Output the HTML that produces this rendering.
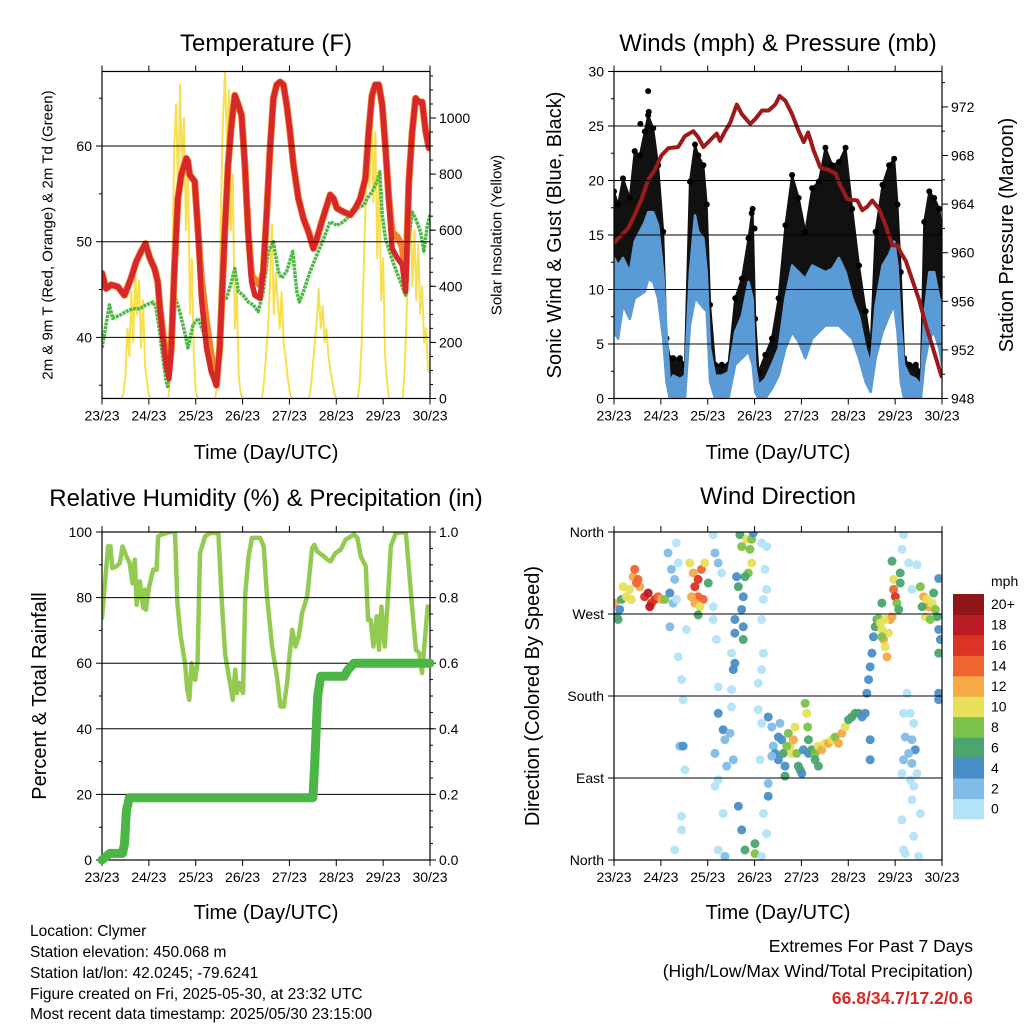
<!DOCTYPE html>
<html>
<head>
<meta charset="utf-8">
<style>
html,body{margin:0;padding:0;background:#fff;}
svg{display:block;font-family:"Liberation Sans",Arial,sans-serif;}
</style>
</head>
<body>
<svg id="chart" width="1024" height="1024" viewBox="0 0 1024 1024" xmlns="http://www.w3.org/2000/svg">
<defs>
<clipPath id="c1"><rect x="102" y="71.5" width="328" height="327"/></clipPath>
<clipPath id="c2"><rect x="614" y="71.5" width="328" height="327"/></clipPath>
<clipPath id="c3"><rect x="102" y="532" width="328" height="328"/></clipPath>
<clipPath id="c4"><rect x="614" y="532" width="328" height="328"/></clipPath>
</defs>
<rect x="0" y="0" width="1024" height="1024" fill="#fff"/>

<text x="266" y="51" font-size="24" text-anchor="middle">Temperature (F)</text>
<text x="778" y="51" font-size="24" text-anchor="middle">Winds (mph) &amp; Pressure (mb)</text>
<text x="266" y="506" font-size="24" text-anchor="middle">Relative Humidity (%) &amp; Precipitation (in)</text>
<text x="778" y="504" font-size="24" text-anchor="middle">Wind Direction</text>

<text x="266" y="459" font-size="20" text-anchor="middle">Time (Day/UTC)</text>
<text x="778" y="459" font-size="20" text-anchor="middle">Time (Day/UTC)</text>
<text x="266" y="919" font-size="20" text-anchor="middle">Time (Day/UTC)</text>
<text x="778" y="919" font-size="20" text-anchor="middle">Time (Day/UTC)</text>

<text x="48" y="235" font-size="15" text-anchor="middle" dominant-baseline="central" transform="rotate(-90 48 235)">2m &amp; 9m T (Red, Orange) &amp; 2m Td (Green)</text>
<text x="497" y="235" font-size="15" text-anchor="middle" dominant-baseline="central" transform="rotate(-90 497 235)">Solar Insolation (Yellow)</text>
<text x="555" y="235" font-size="20" text-anchor="middle" dominant-baseline="central" transform="rotate(-90 555 235)">Sonic Wind &amp; Gust (Blue, Black)</text>
<text x="1007" y="235" font-size="20" text-anchor="middle" dominant-baseline="central" transform="rotate(-90 1007 235)">Station Pressure (Maroon)</text>
<text x="40" y="696" font-size="20" text-anchor="middle" dominant-baseline="central" transform="rotate(-90 40 696)">Percent &amp; Total Rainfall</text>
<text x="533" y="696" font-size="20" text-anchor="middle" dominant-baseline="central" transform="rotate(-90 533 696)">Direction (Colored By Speed)</text>

<g font-size="15.5">
<text x="30" y="936">Location: Clymer</text>
<text x="30" y="957">Station elevation: 450.068 m</text>
<text x="30" y="978">Station lat/lon: 42.0245; -79.6241</text>
<text x="30" y="999">Figure created on Fri, 2025-05-30, at 23:32 UTC</text>
<text x="30" y="1019">Most recent data timestamp: 2025/05/30 23:15:00</text>
</g>
<g font-size="17.5" text-anchor="end">
<text x="973" y="952">Extremes For Past 7 Days</text>
<text x="973" y="977">(High/Low/Max Wind/Total Precipitation)</text>
<text x="973" y="1004" fill="#d42a2a" font-weight="bold">66.8/34.7/17.2/0.6</text>
</g>
</svg>
<script>
// ---------- DATA ----------
const dayLabels = ['23/23','24/23','25/23','26/23','27/23','28/23','29/23','30/23'];

const tempHours = [0,2.1,4.6,8.1,11.5,14.9,17.5,20.1,22.3,24.3,26.9,28.6,29.5,31.2,32.9,34.3,35.5,37.2,38.9,40.6,43.2,44.0,44.9,47.5,49.2,50.9,53.5,56.0,58.6,60.3,62.9,64.6,66.3,68.0,69.8,71.5,73.2,74.9,76.6,78.3,80.9,82.6,84.3,86.1,87.8,89.5,91.2,92.9,94.6,96.3,98.1,100.6,103.2,105.8,108.3,110.0,112.6,115.2,116.9,118.6,120.3,123.8,127.2,129.8,132.3,134.9,136.6,138.3,140.0,141.8,143.5,145.2,146.9,148.6,151.2,153.8,155.5,157.2,158.9,160.6,162.3,164.0,165.8,167.5];
const tempRed = [46.7,45.1,45.5,45.3,44.4,46.2,47.9,49.0,49.8,48.4,47.2,45.8,43.4,39.9,37.1,35.7,38.9,47.6,54.5,57.0,58.7,58.4,57.0,56.3,51.0,44.1,38.9,36.4,35.0,38.9,51.0,58.0,62.2,65.3,64.3,63.2,58.0,51.0,45.8,44.4,44.1,46.9,52.8,59.8,65.0,66.4,66.7,66.4,64.3,61.5,58.0,54.5,52.4,51.0,49.3,50.3,52.1,53.8,54.9,54.5,53.5,53.1,52.8,53.5,54.5,56.6,61.5,65.3,66.4,66.4,64.3,59.8,54.5,49.3,48.3,47.6,44.8,56.3,61.5,65.0,64.6,64.6,61.5,59.8];
const tempOrange = [46.7,45.1,45.5,45.3,44.4,46.2,47.9,49.0,49.8,48.4,47.2,45.8,43.4,40.5,38.0,36.5,38.9,47.6,54.5,57.0,58.7,58.4,57.0,56.3,51.0,46.0,41.5,38.0,35.0,38.9,51.0,58.0,62.2,65.3,64.3,63.2,58.0,51.0,46.5,46.0,45.5,46.9,52.8,59.8,65.0,66.4,66.7,66.4,64.3,61.5,58.0,54.5,52.4,51.0,49.3,50.3,52.1,53.8,54.9,54.5,53.5,53.1,52.8,53.5,54.5,56.6,61.5,65.3,66.4,66.4,64.3,59.8,54.5,51.0,50.5,49.5,46.0,56.3,61.5,65.0,64.6,64.6,61.5,59.8];
const dewHours = [0,3.8,5.5,8.9,12.3,15.8,19.2,22.6,26.1,27.8,29.5,31.2,32.9,33.8,35.5,37.2,39.8,42.3,44.0,46.6,49.2,51.8,55.2,57.8,59.5,61.2,63.8,66.3,68.0,69.8,72.3,74.9,77.5,80.0,82.6,85.2,87.8,90.3,92.0,94.6,97.7,99.8,101.1,103.2,106.6,110.0,113.5,116.9,120.3,123.8,127.2,130.6,134.1,135.8,138.3,140.9,142.3,143.5,145.2,147.8,150.3,152.9,155.5,157.2,158.9,160.6,163.2,164.9,166.6,168];
const dewPoint = [38.9,43.4,42.0,42.3,42.7,43.0,43.0,43.4,43.7,43.0,40.6,37.8,35.4,34.7,38.9,44.4,42.7,40.6,38.9,41.3,42.0,40.6,37.8,35.0,35.0,44.1,44.1,45.8,47.2,44.8,44.4,43.7,43.4,42.7,44.8,49.0,50.0,46.9,46.2,46.9,49.0,44.8,43.7,44.8,46.9,48.6,50.3,52.1,51.7,52.1,52.8,53.5,53.8,54.5,55.2,56.3,57.3,52.8,50.3,48.6,47.2,45.8,44.4,50.3,53.1,52.4,51.0,49.0,51.7,52.8];
const solar = [0,0,0,0,0,0,0,0,0,0,
 0,20,80,250,150,380,200,450,300,420,180,350,120,60,10,0,
 0,0,0,0,0,0,0,0,
 0,100,450,900,1050,700,1120,800,1000,600,850,300,500,150,30,0,
 0,0,0,0,0,0,0,0,
 0,50,300,700,1000,1165,900,1100,600,800,250,400,80,20,0,
 0,0,0,0,0,0,0,0,0,
 0,60,150,250,400,620,300,450,350,250,380,200,150,80,30,0,
 0,0,0,0,0,0,0,0,
 0,40,120,200,280,390,250,330,200,250,150,100,60,20,0,
 0,0,0,0,0,0,0,0,0,0,
 0,60,200,450,700,1000,750,1090,700,950,500,800,350,500,150,60,0,
 0,0,0,0,0,0,
 0,100,300,500,710,400,600,350,550,300,400,200,250,100,95];

const windHours = [0,2.1,4.6,8.1,10.6,13.2,15.8,17.5,20.1,22.6,25.2,26.9,28.6,30.3,33.8,36.3,38.9,41.5,43.2,45.8,47.5,49.2,51.8,55.2,58.6,62.1,65.5,68.9,71.0,72.3,74.0,77.5,80.9,84.3,87.8,91.2,94.6,98.0,101.5,104.9,108.3,111.8,115.2,118.6,122.0,125.5,128.9,131.5,134.0,137.5,140.9,143.5,145.2,146.9,148.6,151.2,154.6,157.2,158.9,161.5,164.0,166.6,168];
const windHigh = [12.9,12.2,12.9,11.6,14.4,15.3,16.2,17.1,17.1,15.9,11.6,6.1,1.5,2.1,1.8,2.1,11.6,16.8,15.3,14.7,11.6,4.6,2.1,2.1,2.4,6.1,7.6,10.7,9.2,3.1,1.2,1.8,3.1,4.6,9.2,12.2,11.6,11.0,12.2,11.9,11.6,11.9,12.9,11.6,9.2,7.6,4.6,3.1,8.6,12.2,13.2,14.4,12.2,6.7,3.1,2.1,1.8,1.2,7.6,11.6,11.6,9.2,8.6];
const windLow = [6.1,5.5,8.6,7.3,9.2,9.5,9.8,11.0,10.7,9.2,5.5,1.5,0,0,0,0,6.7,9.2,8.9,8.3,8.0,1.5,0,0,0,3.1,3.7,4.3,3.1,0.6,0,0,0.9,2.1,4.6,6.1,5.2,3.7,5.5,6.1,6.7,6.7,6.7,6.1,5.5,3.7,1.5,0.6,3.7,6.1,7.6,8.6,6.1,1.5,0,0,0,0,3.1,5.5,6.1,4.6,3.1];
const gustHigh = [19.0,17.8,20.2,18.4,22.7,22.3,24.5,26.0,24.8,21.4,15.3,5.5,3.7,3.7,3.7,3.1,19.9,23.3,22.3,21.4,17.8,8.6,3.1,3.1,3.1,9.2,11.0,14.7,17.4,7.3,2.4,4.0,5.5,9.2,15.9,20.5,18.4,15.3,19.3,19.9,23.0,21.4,21.7,23.0,17.4,12.2,8.0,4.9,15.3,19.6,21.4,22.0,17.8,11.6,3.7,3.1,3.1,2.4,16.2,19.0,18.4,17.4,15.3];
const gustOutHours = [17.5,17.8,13.5,70.5,72.0];
const gustOutlier = [28.2,26.3,25.2,17.0,15.6];
const presHours = [0,2.9,7.2,10.6,14.1,17.5,20.9,24.3,27.8,32.9,36.3,40.6,43.2,45.8,50.1,52.6,54.3,56.9,59.5,62.9,65.5,69.8,72.3,75.8,79.2,82.6,84.8,87.8,91.2,94.6,97.2,99.4,102.3,105.7,110.0,113.5,116.0,119.5,124.6,127.2,129.8,132.3,135.8,139.2,142.6,145.2,146.9,149.5,152.9,156.3,159.8,164.0,168];
const pressure = [960.8,961.3,962.0,963.1,964.4,966.0,966.8,968.0,968.6,968.7,969.6,970.0,969.5,968.7,969.4,969.8,969.2,970.0,970.7,972.2,971.4,970.6,971.0,971.7,971.7,972.2,972.9,972.5,971.4,970.0,969.1,969.9,968.4,967.0,966.8,966.5,965.5,964.4,964.3,963.5,963.8,964.3,963.6,962.2,960.6,960.6,960.0,959.3,957.7,956.1,954.0,951.8,949.7];

const rhHours = [0,1.4,3.1,4.3,5.3,7.4,9.1,10.5,12.5,14.2,15.6,16.8,17.7,19.4,21.1,21.9,22.5,24.2,26.2,27.9,28.8,30.5,34.8,37.4,38.6,40.3,42.5,43.7,44.7,45.9,47.7,48.9,50.2,52.8,55.4,59.6,61.4,63.1,65.3,67.0,68.2,69.1,70.4,72.2,73.4,75.1,76.8,81.1,82.8,84.5,87.1,89.6,91.4,93.1,94.8,96.2,97.4,99.1,100.8,102.5,105.1,107.6,108.8,110.2,113.6,115.4,117.1,119.6,122.2,124.8,129.1,130.8,132.5,135.1,136.3,137.6,139.0,140.7,141.9,143.1,144.8,146.2,147.9,150.5,155.6,157.4,159.1,160.8,162.5,163.9,165.1,166.8,168];
const rh = [73.8,83.4,95.6,95.6,89.0,89.5,90.5,95.6,92.6,90.5,84.4,91.6,77.8,84.9,76.8,82.4,76.3,83.4,88.5,88.5,98.7,99.2,100,100,78.3,68.2,60.0,51.9,48.8,60.0,54.9,60.0,93.6,98.7,99.7,99.7,78.3,62.6,54.9,48.8,58.0,50.9,54.0,50.9,81.4,92.6,98.2,98.2,95.6,80.4,65.1,56.0,46.8,46.8,54.0,63.1,70.2,65.1,68.2,75.3,80.4,95.1,96.1,94.1,92.6,91.6,91.0,93.6,94.6,97.7,99.2,98.2,92.6,89.5,73.2,73.2,65.1,74.3,64.1,77.3,65.1,77.3,95.6,99.7,100,87.5,75.3,64.1,63.1,57.0,65.1,77.3,75.3];
const precipHours = [0,4,10.5,11.5,12.5,14,16,108,109,110.5,112,124,126,129,168];
const precip = [0,0.02,0.02,0.05,0.15,0.19,0.19,0.19,0.3,0.5,0.56,0.56,0.58,0.6,0.6];

const dirHours = [
 0.3,1.2,2.1,2.9,3.8,
 4.6,6.3,8.0,9.8,10.6,12.3,13.2,8.9,11.5,
 15.7,17.5,19.2,20.9,18.3,22.6,24.3,26.0,
 27.7,29.4,31.1,28.6,32.9,32.0,30.3,28.6,32.9,34.6,35.4,33.7,35.4,36.3,34.6,34.6,31.1,37.1,32.0,
 38.8,40.6,41.4,43.1,44.8,46.5,43.1,39.7,45.7,48.3,41.4,44.0,43.1,
 50.8,51.7,53.4,55.1,50.8,52.5,53.4,53.4,55.9,56.8,51.7,57.7,53.4,51.7,55.9,53.4,56.8,60.2,59.4,61.1,60.2,60.2,50.8,
 64.5,65.4,67.9,69.6,70.5,68.8,67.1,62.8,63.7,66.2,65.4,61.9,61.9,66.2,66.2,61.9,61.1,63.7,65.4,67.1,72.2,72.2,70.5,71.3,
 75.6,78.2,77.3,78.2,76.5,75.6,76.5,75.6,73.9,73.9,75.6,74.8,79.0,79.0,76.5,78.2,75.6,
 79.0,80.8,81.6,82.5,84.2,85.0,85.9,86.7,87.6,87.6,89.3,90.2,91.0,91.9,92.7,93.6,94.4,95.3,96.2,97.0,97.9,98.7,99.2,99.6,99.6,80.8,84.2,88.5,
 101.3,103.0,104.7,106.4,108.1,109.9,111.6,113.3,115.0,116.7,118.4,120.1,121.8,123.5,125.3,127.0,128.7,103.0,104.7,131.2,131.2,
 129.5,130.4,131.2,132.1,132.9,133.8,134.7,135.5,136.4,137.2,138.1,138.9,139.8,140.6,141.5,138.9,137.2,
 142.4,143.2,143.2,144.1,144.9,146.6,146.6,145.8,137.2,142.4,
 148.3,147.5,150.9,155.2,152.6,150.1,148.3,151.8,153.5,149.2,152.6,154.3,150.9,148.3,152.6,155.2,151.8,153.5,152.6,156.9,147.5,153.5,148.3,156.0,149.2,147.5,
 156.9,158.6,160.3,161.2,162.9,164.6,165.5,166.3,167.2,166.3,166.3,166.3,157.8,159.5,162.0,163.7,166.3];
const dirDeg = [
 282,267,264,275,286,
 300,289,297,311,319,308,300,286,304,
 289,293,282,286,278,289,286,286,
 337,319,308,293,326,348,282,256,223,198,176,125,125,99,48,33,11,253,286,
 326,315,300,308,319,326,289,289,286,304,282,278,269,
 357,337,326,315,264,242,190,161,143,132,117,103,88,81,51,11,4,168,139,110,187,227,278,
 357,344,352,341,326,315,311,311,300,289,275,264,249,256,242,216,209,59,33,11,18,7,352,359,
 348,344,319,297,286,264,227,209,194,165,150,110,84,70,51,29,4,
 157,146,125,117,110,150,132,117,103,92,139,125,117,132,146,117,103,99,95,121,172,161,146,132,117,114,135,125,
 121,117,125,121,128,128,132,135,128,139,146,154,157,161,161,157,161,110,103,132,110,
 183,198,212,227,245,256,264,265,260,253,242,234,223,249,264,264,245,
 328,308,297,289,282,315,304,275,282,267,
 357,341,326,324,297,183,161,161,150,135,132,121,117,110,106,95,88,81,66,51,44,26,11,4,7,95,
 300,289,286,278,282,275,267,253,242,227,183,176,278,267,264,293,309];
const dirSpeed = [
 12,6,6,4,6,
 10,10,10,12,14,14,12,10,14,
 16,18,16,16,18,14,12,8,
 2,2,2,4,0,0,2,2,0,0,0,2,4,0,0,0,0,0,0,
 10,12,16,16,14,10,14,12,14,6,12,10,6,
 0,2,2,0,0,0,0,4,4,2,2,2,0,0,0,0,2,0,2,2,0,0,0,
 6,8,10,8,10,8,6,4,6,4,4,4,4,4,6,4,4,4,4,6,6,8,8,4,
 0,0,0,0,0,0,0,0,0,0,0,0,2,4,0,0,0,
 4,2,2,4,4,2,4,6,4,6,8,10,10,12,10,8,6,6,4,4,8,10,8,6,4,2,4,8,
 6,8,10,12,10,12,10,8,12,12,10,6,6,6,6,4,4,6,6,4,4,
 4,4,4,4,4,6,6,8,10,10,12,10,12,10,12,10,8,
 6,10,14,16,8,6,6,6,6,12,
 0,0,0,0,0,0,0,0,0,2,2,4,2,2,2,0,0,0,0,0,0,0,0,0,0,0,
 8,12,10,12,10,8,6,4,4,6,4,4,6,10,8,6,4];

const speedLevels = ['0','2','4','6','8','10','12','14','16','18','20+'];
const speedColors = ['#b4e3f8','#82bce6','#4a8ec8','#4aa56e','#7cc24a','#e6e05a','#f5a947','#ef6530','#db3326','#bb1b22','#8e1518'];

// ---------- HELPERS ----------
const NS = 'http://www.w3.org/2000/svg';
const svg = document.getElementById('chart');
function mk(tag, attrs, parent){
  const e = document.createElementNS(NS, tag);
  for (const k in attrs) e.setAttribute(k, attrs[k]);
  (parent || svg).appendChild(e);
  return e;
}
function linScale(d0, d1, r0, r1){ return v => r0 + (v - d0) * (r1 - r0) / (d1 - d0); }
function pts(xs, ys, fx, fy){ return xs.map((h,i)=>fx(h).toFixed(1)+','+fy(ys[i]).toFixed(1)).join(' '); }

function drawPanel(p){
  const g = mk('g', {});
  
  
  const L = p.x, R = p.x + p.w, T = p.y, B = p.y + p.h;
  p.grid.forEach(v => {
    const y = p.yl(v);
    const ln = mk('line', {x1:L, x2:R, y1:y, y2:y, stroke:'#000', 'stroke-width':1}, g);
    
    
  });
  dayLabels.forEach((lab, i) => {
    const x = p.xs(i * 24);
    const t1 = mk('line', {x1:x, x2:x, y1:T, y2:T-6, stroke:'#000', 'stroke-width':1}, g);
    
    
    const t2 = mk('line', {x1:x, x2:x, y1:B, y2:B+6, stroke:'#000', 'stroke-width':1}, g);
    
    
    const tx = mk('text', {x:x, y:B+22, 'font-size':14, 'text-anchor':'middle'}, g);
    
    
    tx.textContent = lab;
  });
  p.lMinor.forEach(v => {
    const y = p.yl(v);
    const t = mk('line', {x1:L, x2:L-3, y1:y, y2:y, stroke:'#000'}, g);
    
    
  });
  p.lMajor.forEach((v, i) => {
    const y = p.yl(v);
    const t = mk('line', {x1:L, x2:L-6, y1:y, y2:y, stroke:'#000'}, g);
    
    
    const tx = mk('text', {x:L-10, y:y+5, 'font-size':14, 'text-anchor':'end'}, g);
    
    
    tx.textContent = p.lLabels[i];
  });
  p.rMinor.forEach(v => {
    const y = p.yr(v);
    const t = mk('line', {x1:R, x2:R+3, y1:y, y2:y, stroke:'#000'}, g);
    
    
  });
  p.rMajor.forEach((v, i) => {
    const y = p.yr(v);
    const t = mk('line', {x1:R, x2:R+6, y1:y, y2:y, stroke:'#000'}, g);
    
    
    if (p.rLabels) {
      const tx = mk('text', {x:R+9, y:y+5, 'font-size':14, 'text-anchor':'start'}, g);
      
      
      tx.textContent = p.rLabels[i];
    }
  });
  const fr = mk('rect', {x:L, y:T, width:p.w, height:p.h, fill:'none', stroke:'#000', 'stroke-width':1.2});
  
  
}
function range(a, b, s){ const r=[]; for(let v=a; v<=b+1e-9; v+=s) r.push(+v.toFixed(4)); return r; }

// ---------- PANEL 1: TEMPERATURE ----------
const x1 = linScale(0, 168, 102, 430);
const yT = linScale(60, 40, 146, 337.4);
const yS = linScale(0, 1000, 398.5, 118);
const g1 = mk('g', {'clip-path':'url(#c1)'});


const solarLine = mk('polyline', {points: pts(solar.map((_,i)=>i), solar, x1, yS), fill:'none', stroke:'#f7e04f', 'stroke-width':2, 'stroke-linejoin':'round'}, g1);


const dewLine = mk('polyline', {points: pts(dewHours, dewPoint, x1, yT), fill:'none', stroke:'#4db848', 'stroke-width':3.5, 'stroke-dasharray':'3 0.8', 'stroke-linejoin':'round'}, g1);


const orangeLine = mk('polyline', {points: pts(tempHours, tempOrange, x1, yT), fill:'none', stroke:'#f27f2b', 'stroke-width':7, 'stroke-linejoin':'round', 'stroke-linecap':'round'}, g1);


const redLine = mk('polyline', {points: pts(tempHours, tempRed, x1, yT), fill:'none', stroke:'#d62828', 'stroke-width':5.5, 'stroke-linejoin':'round', 'stroke-linecap':'round'}, g1);


drawPanel({name:'temperature', x:102, y:71.5, w:328, h:327, xs:x1, yl:yT, yr:yS,
  grid:[40,50,60], lMajor:[40,50,60], lLabels:['40','50','60'], lMinor:[35,45,55,65],
  rMajor:[0,200,400,600,800,1000], rLabels:['0','200','400','600','800','1000'], rMinor:range(50,1150,50)});

// ---------- PANEL 2: WINDS ----------
const x2 = linScale(0, 168, 614, 942);
const yW = linScale(0, 30, 398.5, 71.5);
const yP = linScale(948, 972, 398.5, 106.9);
const g2 = mk('g', {'clip-path':'url(#c2)'});


const gustArea = mk('polygon', {points: pts(windHours, gustHigh, x2, yW) + ' ' + pts(windHours.slice().reverse(), windLow.slice().reverse(), x2, yW), fill:'#111', stroke:'#111', 'stroke-width':2, 'stroke-linejoin':'round'}, g2);


windHours.forEach((h, i) => {
  const c = mk('circle', {cx:x2(h), cy:yW(gustHigh[i]), r:3, fill:'#000'}, g2);
  
  
});
gustOutHours.forEach((h, i) => {
  const c = mk('circle', {cx:x2(h), cy:yW(gustOutlier[i]), r:3, fill:'#000'}, g2);
  
  
});
const windArea = mk('polygon', {points: pts(windHours, windHigh, x2, yW) + ' ' + pts(windHours.slice().reverse(), windLow.slice().reverse(), x2, yW), fill:'#5b9bd5', stroke:'#5b9bd5', 'stroke-width':2.5, 'stroke-linejoin':'round'}, g2);


const presLine = mk('polyline', {points: pts(presHours, pressure, x2, yP), fill:'none', stroke:'#9b1b1b', 'stroke-width':4, 'stroke-linejoin':'round'}, g2);


drawPanel({name:'winds', x:614, y:71.5, w:328, h:327, xs:x2, yl:yW, yr:yP,
  grid:[5,10,15,20,25], lMajor:[0,5,10,15,20,25,30], lLabels:['0','5','10','15','20','25','30'], lMinor:[2.5,7.5,12.5,17.5,22.5,27.5],
  rMajor:[948,952,956,960,964,968,972], rLabels:['948','952','956','960','964','968','972'], rMinor:range(950,974,4)});

// ---------- PANEL 3: HUMIDITY ----------
const x3 = linScale(0, 168, 102, 430);
const yR = linScale(0, 100, 860, 532);
const yPr = linScale(0, 1, 860, 532);
const g3 = mk('g', {'clip-path':'url(#c3)'});


const rhLine = mk('polyline', {points: pts(rhHours, rh, x3, yR), fill:'none', stroke:'#93cb52', 'stroke-width':4.5, 'stroke-linejoin':'round', 'stroke-linecap':'round'}, g3);


drawPanel({name:'humidity', x:102, y:532, w:328, h:328, xs:x3, yl:yR, yr:yPr,
  grid:[20,40,60,80], lMajor:[0,20,40,60,80,100], lLabels:['0','20','40','60','80','100'], lMinor:[10,30,50,70,90],
  rMajor:[0,0.2,0.4,0.6,0.8,1.0], rLabels:['0.0','0.2','0.4','0.6','0.8','1.0'], rMinor:range(0.05,0.95,0.05)});
const prLine = mk('polyline', {points: pts(precipHours, precip, x3, yPr), fill:'none', stroke:'#4bb545', 'stroke-width':9, 'stroke-linejoin':'round', 'stroke-linecap':'round'});



// ---------- PANEL 4: DIRECTION ----------
const x4 = linScale(0, 168, 614, 942);
const yD = linScale(0, 360, 860, 532);
const g4 = mk('g', {'clip-path':'url(#c4)'});


function speedColor(s){ return speedColors[Math.min(10, Math.max(0, Math.floor(s / 2)))]; }
dirHours.forEach((h, i) => {
  const c = mk('circle', {cx:x4(h), cy:yD(dirDeg[i]), r:4.5, fill:speedColor(dirSpeed[i]), 'fill-opacity':0.95}, g4);
  
  
});
drawPanel({name:'direction', x:614, y:532, w:328, h:328, xs:x4, yl:yD, yr:yD,
  grid:[90,180,270], lMajor:[0,90,180,270,360], lLabels:['North','East','South','West','North'], lMinor:[],
  rMajor:[], rLabels:null, rMinor:[]});

const cb = mk('g', {});


const cbTop = 594, cbH = 20.45;
speedLevels.forEach((lab, i) => {
  const yy = cbTop + (10 - i) * cbH;
  const r = mk('rect', {x:953, y:yy, width:31, height:cbH + 0.5, fill:speedColors[i]}, cb);
  
  
  const t = mk('text', {x:991, y:yy + cbH/2 + 5, 'font-size':14}, cb);
  
  
  t.textContent = lab;
});
const mph = mk('text', {x:991, y:586, 'font-size':14}, cb);


mph.textContent = 'mph';
</script>
</body>
</html>
